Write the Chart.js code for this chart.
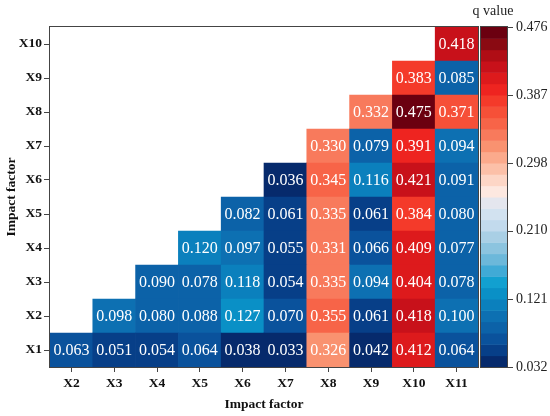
<!DOCTYPE html>
<html>
<head>
<meta charset="utf-8">
<script src="https://cdn.jsdelivr.net/npm/chart.js@4.4.1/dist/chart.umd.min.js"></script>
<style>
  body { margin: 0; background: #fff; }
</style>
</head>
<body>
<canvas id="heat" width="550" height="416"></canvas>
<script>
// factor labels along each axis
const xLabels = ['X2', 'X3', 'X4', 'X5', 'X6', 'X7', 'X8', 'X9', 'X10', 'X11']
const yLabels = ['X1', 'X2', 'X3', 'X4', 'X5', 'X6', 'X7', 'X8', 'X9', 'X10']

// q values, one row per y factor, columns follow xLabels (null = empty cell)
const rowX1  = [0.063, 0.051, 0.054, 0.064, 0.038, 0.033, 0.326, 0.042, 0.412, 0.064]
const rowX2  = [null, 0.098, 0.080, 0.088, 0.127, 0.070, 0.355, 0.061, 0.418, 0.100]
const rowX3  = [null, null, 0.090, 0.078, 0.118, 0.054, 0.335, 0.094, 0.404, 0.078]
const rowX4  = [null, null, null, 0.120, 0.097, 0.055, 0.331, 0.066, 0.409, 0.077]
const rowX5  = [null, null, null, null, 0.082, 0.061, 0.335, 0.061, 0.384, 0.080]
const rowX6  = [null, null, null, null, null, 0.036, 0.345, 0.116, 0.421, 0.091]
const rowX7  = [null, null, null, null, null, null, 0.330, 0.079, 0.391, 0.094]
const rowX8  = [null, null, null, null, null, null, null, 0.332, 0.475, 0.371]
const rowX9  = [null, null, null, null, null, null, null, null, 0.383, 0.085]
const rowX10 = [null, null, null, null, null, null, null, null, null, 0.418]
const rows = [rowX1, rowX2, rowX3, rowX4, rowX5, rowX6, rowX7, rowX8, rowX9, rowX10]

// colour bar range and tick labels
const qMin = 0.032
const qMax = 0.476
const cbTicks = [0.032, 0.121, 0.210, 0.298, 0.387, 0.476]

// discrete colour levels, lowest first
const levels = ['#062a6c', '#073f88', '#0a529c', '#0c62a8', '#0d70b2', '#0b80bd', '#0a90c6', '#12a0d0',
    '#40aad6', '#6cb8da', '#8cc4df', '#a9cfe5', '#c2daed', '#d2e2f0', '#e4e6ee', '#fde8e0', '#fdd6c6',
    '#fcc0a8', '#fbaa8c', '#f99270', '#f87a5c', '#f76448', '#f65038', '#f43a2a', '#ee2420', '#dd1a1c',
    '#c8111a', '#b00d15', '#8a0a12', '#6b0010']

const serif = 'Liberation Serif'
const frameColor = '#444'

function colorFor(v) {
    const step = (qMax - qMin) / levels.length
    let i = Math.floor((v - qMin) / step)
    if (i < 0) i = 0
    if (i >= levels.length) i = levels.length - 1
    return levels[i]
}

// no extra room for labels that hang over the plot edges
function noPad(s) {
    s.paddingTop = 0
    s.paddingBottom = 0
    s.paddingLeft = 0
    s.paddingRight = 0
}

const datasets = rows.map((row, r) => ({
    label: yLabels[r],
    data: row.map(v => v == null ? null : [r + 0.5, r + 1.5]),
    qValues: row,
    backgroundColor: row.map(v => v == null ? 'rgba(0,0,0,0)' : colorFor(v)),
    borderWidth: 0,
    grouped: false,
    barPercentage: 1,
    categoryPercentage: 1
}))

// draws cell numbers, the plot frame and the colour bar
const heatExtras = {
    id: 'heatExtras',
    afterDatasetsDraw(chart) {
        const ctx = chart.ctx
        ctx.save()
        ctx.fillStyle = '#fff'
        ctx.font = '16px "' + serif + '"'
        ctx.textAlign = 'center'
        ctx.textBaseline = 'middle'
        chart.data.datasets.forEach((ds, d) => {
            chart.getDatasetMeta(d).data.forEach((el, i) => {
                const v = ds.qValues[i]
                if (v == null) return
                ctx.fillText(v.toFixed(3), el.x, (el.y + el.base) / 2 + 1)
            })
        })
        ctx.restore()
    },
    afterDraw(chart) {
        const ctx = chart.ctx
        const a = chart.chartArea
        const cb = chart.scales.cb
        ctx.save()
        ctx.strokeStyle = frameColor
        ctx.lineWidth = 1
        ctx.strokeRect(a.left - 0.5, a.top - 0.5, a.right - a.left + 1, a.bottom - a.top + 1)

        // colour bar
        const x0 = a.right + 3
        const x1 = a.right + 29
        const step = (qMax - qMin) / levels.length
        levels.forEach((c, i) => {
            const yb = cb.getPixelForValue(qMin + i * step)
            const yt = cb.getPixelForValue(qMin + (i + 1) * step)
            ctx.fillStyle = c
            ctx.fillRect(x0, yt, x1 - x0, yb - yt + 0.5)
        })
        ctx.strokeRect(x0 - 0.5, cb.top - 0.5, x1 - x0 + 1, cb.bottom - cb.top + 1)
        ctx.beginPath()
        cbTicks.forEach(t => {
            const y = Math.round(cb.getPixelForValue(t)) + 0.5
            ctx.moveTo(x1, y)
            ctx.lineTo(x1 + 6, y)
        })
        ctx.stroke()

        ctx.fillStyle = '#222'
        ctx.font = '14px "' + serif + '"'
        ctx.textAlign = 'center'
        ctx.textBaseline = 'middle'
        ctx.fillText('q value', (x0 + x1) / 2 - 1, 11)
        ctx.restore()
    }
}

new Chart(document.getElementById('heat'), {
    type: 'bar',
    data: { labels: xLabels, datasets },
    options: {
        responsive: false,
        animation: false,
        layout: { padding: { top: 27, left: 0, right: 0, bottom: 0 } },
        plugins: {
            legend: { display: false },
            tooltip: { enabled: false }
        },
        scales: {
            x: {
                offset: true,
                afterFit: s => { s.height = 49; noPad(s) },
                grid: { display: true, offset: false, drawOnChartArea: false, tickLength: 5, color: frameColor },
                border: { display: false },
                ticks: { color: '#111', padding: 3, font: { family: serif, size: 13.5, weight: 'bold' } },
                title: {
                    display: true, text: 'Impact factor', color: '#111',
                    padding: { top: 0, bottom: 3 },
                    font: { family: serif, size: 13.5, weight: 'bold' }
                }
            },
            y: {
                min: 0.5,
                max: 10.5,
                afterFit: s => { s.width = 50; noPad(s) },
                afterBuildTicks: s => { s.ticks = yLabels.map((_, i) => ({ value: i + 1 })) },
                grid: { display: true, drawOnChartArea: false, tickLength: 6, color: frameColor },
                border: { display: false },
                ticks: {
                    color: '#111', padding: 2,
                    font: { family: serif, size: 13.5, weight: 'bold' },
                    callback: v => yLabels[v - 1]
                },
                title: {
                    display: true, text: 'Impact factor', color: '#111',
                    padding: { top: 3, bottom: 0 },
                    font: { family: serif, size: 13.5, weight: 'bold' }
                }
            },
            cb: {
                type: 'linear',
                position: 'right',
                min: qMin,
                max: qMax,
                afterFit: s => { s.width = 72; noPad(s) },
                afterBuildTicks: s => { s.ticks = cbTicks.map(v => ({ value: v })) },
                grid: { display: false, drawTicks: false },
                border: { display: false },
                ticks: {
                    color: '#222', padding: 38,
                    font: { family: serif, size: 14 },
                    callback: v => v.toFixed(3)
                }
            }
        }
    },
    plugins: [heatExtras]
})
</script>
</body>
</html>
